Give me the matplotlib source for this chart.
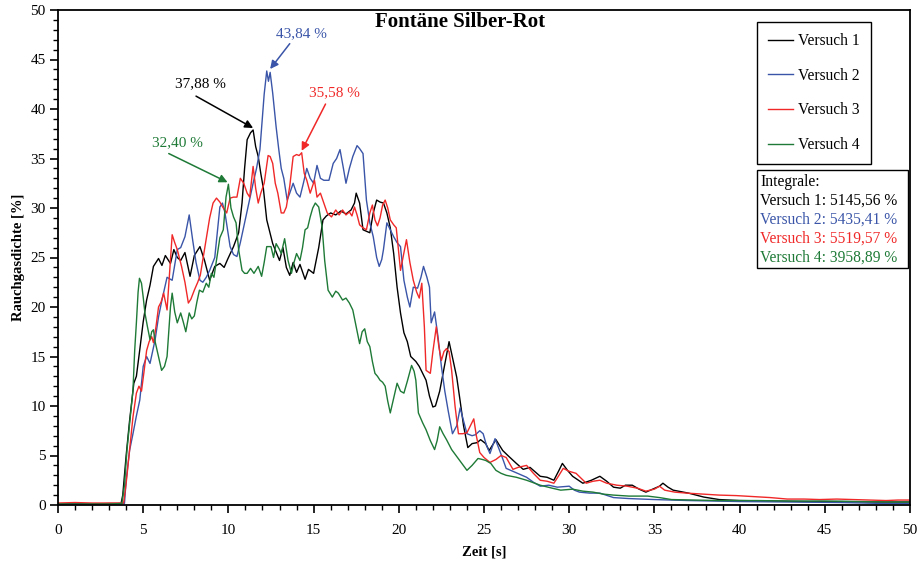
import matplotlib
matplotlib.use("Agg")
import matplotlib.pyplot as plt
from matplotlib.ticker import MultipleLocator
from matplotlib.patches import Rectangle

plt.rcParams['font.family'] = ['Liberation Serif', 'DejaVu Serif']

title = "Fontäne Silber-Rot"
xlabel = "Zeit [s]"
ylabel = "Rauchgasdichte [%]"
labels = ["Versuch 1", "Versuch 2", "Versuch 3", "Versuch 4"]
colors = ["#000000", "#3a55a8", "#f02828", "#1e7a36"]
integrals = ["5145,56 %", "5435,41 %", "5519,57 %", "3958,89 %"]
peaks = ["37,88 %", "43,84 %", "35,58 %", "32,40 %"]
peak_t = [11.45, 12.45, 14.3, 9.95]
peak_y = [37.88, 43.84, 35.58, 32.40]

t_v1 = [0, 1, 2, 3, 3.7, 3.8, 4.0, 4.2, 4.45, 4.6, 4.8, 5.0, 5.2, 5.4, 5.6, 5.9, 6.1, 6.3, 6.6, 6.8, 7.0, 7.2, 7.45, 7.75, 8.0, 8.33, 8.6, 8.9, 9.2, 9.5, 9.75, 9.95, 10.3, 10.6, 10.8, 10.95, 11.1, 11.3, 11.45, 11.6, 11.75, 11.9, 12.05, 12.25, 12.6, 13.0, 13.2, 13.4, 13.6, 13.8, 14.0, 14.2, 14.5, 14.7, 15.0, 15.3, 15.55, 15.75, 16.0, 16.3, 16.6, 16.9, 17.2, 17.4, 17.5, 17.7, 17.9, 18.3, 18.5, 18.7, 18.9, 19.1, 19.3, 19.5, 19.7, 19.9, 20.1, 20.3, 20.5, 20.7, 21.0, 21.2, 21.6, 21.8, 22.0, 22.15, 22.4, 22.6, 22.95, 23.2, 23.4, 23.6, 23.8, 24.05, 24.3, 24.6, 24.8, 25.1, 25.3, 25.7, 26.1, 26.4, 26.9, 27.3, 27.7, 28.3, 28.7, 29.1, 29.4, 29.6, 29.9, 30.2, 30.8, 31.3, 31.8, 32.2, 32.6, 33.0, 33.3, 33.7, 34.1, 34.5, 34.9, 35.3, 35.5, 35.8, 36.1, 37.0, 37.9, 38.8, 40, 42, 44, 46, 48, 50]
y_v1 = [0.1, 0.15, 0.1, 0.15, 0.15, 1.0, 5.0, 8.5, 12.3, 13.0, 15.7, 18.5, 20.7, 22.2, 24.1, 24.9, 24.2, 25.2, 24.4, 25.8, 25.0, 24.7, 25.5, 23.1, 25.2, 26.1, 24.7, 22.7, 24.1, 24.4, 24.0, 24.8, 26.1, 27.5, 30.5, 34.0, 36.9, 37.6, 37.88, 36.2, 35.2, 33.5, 32.0, 28.8, 26.4, 24.7, 26.0, 24.0, 23.2, 24.5, 23.5, 24.3, 22.8, 23.8, 23.4, 26.0, 28.8, 29.2, 29.5, 29.3, 29.7, 29.4, 29.8, 30.5, 31.5, 30.5, 27.8, 27.5, 29.5, 30.8, 30.6, 30.5, 29.5, 28.0, 25.4, 22.0, 19.4, 17.4, 16.5, 15.0, 14.5, 14.0, 12.6, 11.0, 9.9, 10.0, 11.5, 13.3, 16.5, 14.5, 12.9, 10.5, 8.0, 5.8, 6.2, 6.3, 6.6, 6.2, 5.5, 6.6, 5.5, 5.0, 4.2, 3.6, 3.8, 2.9, 2.8, 2.5, 3.5, 4.2, 3.5, 2.9, 2.2, 2.5, 2.9, 2.4, 1.8, 1.7, 2.0, 2.0, 1.6, 1.3, 1.6, 1.9, 2.2, 1.8, 1.5, 1.2, 0.8, 0.55, 0.45, 0.4, 0.35, 0.35, 0.3, 0.3]

t_v2 = [0, 2, 3.9, 4.0, 4.2, 4.4, 4.6, 4.8, 5.0, 5.2, 5.4, 5.7, 5.9, 6.1, 6.4, 6.7, 7.0, 7.2, 7.45, 7.7, 7.9, 8.1, 8.33, 8.5, 8.7, 8.9, 9.2, 9.35, 9.5, 9.65, 9.8, 10.1, 10.3, 10.5, 10.7, 10.9, 11.2, 11.45, 11.65, 11.85, 11.95, 12.1, 12.25, 12.35, 12.45, 12.6, 12.8, 12.95, 13.1, 13.25, 13.45, 13.6, 13.8, 14.0, 14.2, 14.4, 14.6, 14.8, 15.0, 15.2, 15.4, 15.6, 15.9, 16.15, 16.35, 16.55, 16.75, 16.9, 17.1, 17.3, 17.55, 17.7, 17.9, 18.1, 18.3, 18.5, 18.7, 18.85, 19.0, 19.1, 19.3, 19.5, 19.7, 19.9, 20.1, 20.3, 20.5, 20.65, 20.85, 21.1, 21.3, 21.45, 21.65, 21.8, 21.9, 22.1, 22.3, 22.5, 22.7, 22.9, 23.15, 23.4, 23.6, 23.8, 24.0, 24.3, 24.5, 24.75, 24.95, 25.15, 25.35, 25.65, 25.85, 26.05, 26.3, 26.7, 27.1, 27.5, 27.9, 28.3, 28.8, 29.3, 30.0, 30.3, 30.6, 31.2, 31.8, 32.6, 33.5, 35, 37, 40, 43, 46, 48.5, 50]
y_v2 = [0.1, 0.1, 0.15, 2.5, 5.5, 7.2, 9.0, 10.6, 14.0, 15.0, 14.3, 16.7, 19.0, 20.7, 23.0, 22.7, 25.8, 26.0, 27.1, 29.3, 26.8, 24.5, 22.7, 22.5, 23.0, 23.7, 25.0, 27.5, 30.1, 30.5, 29.5, 26.1, 25.3, 25.1, 26.5, 28.1, 30.5, 32.5, 34.0, 35.9, 38.2, 41.5, 43.84, 42.8, 43.7, 41.6, 38.2, 36.0, 34.0, 33.0, 30.8, 31.5, 32.5, 31.5, 31.1, 32.5, 34.0, 33.0, 32.5, 34.3, 33.0, 32.8, 32.8, 34.5, 35.0, 35.9, 34.0, 32.5, 34.0, 35.2, 36.3, 36.0, 35.5, 30.8, 28.5, 27.1, 25.0, 24.1, 24.8, 25.8, 28.5, 27.8, 27.1, 26.5, 26.1, 22.7, 21.0, 20.0, 22.0, 21.9, 23.0, 24.1, 23.0, 22.0, 18.4, 19.5, 17.0, 14.0, 11.5, 9.5, 7.2, 8.0, 9.8, 8.5, 7.2, 7.0, 7.1, 7.5, 7.2, 6.0, 5.2, 6.7, 5.8, 4.9, 3.7, 3.4, 3.1, 2.8, 2.3, 1.9, 2.0, 1.8, 1.9, 1.5, 1.3, 1.2, 1.2, 0.75, 0.65, 0.55, 0.45, 0.35, 0.3, 0.25, 0.15, 0.15]

t_v3 = [0, 1, 2, 3, 3.85, 4.0, 4.2, 4.4, 4.6, 4.75, 4.9, 5.05, 5.2, 5.35, 5.5, 5.6, 5.75, 5.9, 6.05, 6.2, 6.4, 6.55, 6.7, 6.85, 7.0, 7.25, 7.45, 7.65, 7.8, 8.0, 8.2, 8.35, 8.5, 8.7, 8.9, 9.1, 9.3, 9.5, 9.7, 9.9, 10.1, 10.3, 10.5, 10.7, 10.9, 11.1, 11.25, 11.45, 11.6, 11.75, 11.9, 12.1, 12.33, 12.45, 12.6, 12.75, 12.9, 13.1, 13.25, 13.4, 13.6, 13.8, 14.0, 14.15, 14.3, 14.45, 14.6, 14.8, 15.05, 15.2, 15.4, 15.6, 15.8, 16.05, 16.3, 16.5, 16.7, 16.9, 17.1, 17.25, 17.4, 17.55, 17.7, 17.9, 18.1, 18.3, 18.45, 18.6, 18.75, 18.9, 19.05, 19.2, 19.35, 19.5, 19.7, 19.85, 20.1, 20.3, 20.45, 20.65, 20.85, 21.05, 21.2, 21.35, 21.5, 21.6, 21.85, 22.0, 22.2, 22.35, 22.5, 22.65, 22.8, 22.95, 23.1, 23.3, 23.5, 23.75, 24.0, 24.2, 24.4, 24.55, 24.75, 25.0, 25.35, 25.7, 26.0, 26.3, 26.7, 27.0, 27.5, 27.9, 28.3, 28.7, 29.1, 29.4, 29.65, 30.0, 30.4, 30.7, 31.0, 31.4, 31.8, 32.2, 32.8, 33.4, 34.0, 34.5, 35.0, 35.3, 35.6, 36.2, 36.9, 37.8, 38.8, 39.8, 40.8, 41.8, 42.8, 43.8, 44.7, 45.7, 46.7, 47.6, 48.6, 49.3, 50]
y_v3 = [0.2, 0.25, 0.2, 0.2, 0.2, 2.2, 5.5, 8.9, 11.3, 12.0, 11.5, 13.5, 15.6, 16.5, 17.0, 16.4, 18.0, 20.0, 20.5, 21.4, 19.7, 23.5, 27.3, 26.5, 25.8, 24.1, 22.5, 20.4, 20.8, 21.7, 22.5, 23.2, 24.8, 27.0, 29.0, 30.5, 31.0, 30.6, 30.0, 29.5, 31.0, 31.1, 31.1, 33.0, 32.5, 31.5, 31.1, 34.2, 32.0, 30.5, 31.5, 32.5, 35.3, 35.2, 34.5, 32.5, 31.5, 29.5, 29.5, 30.1, 32.2, 35.2, 35.4, 35.3, 35.58, 33.5, 32.8, 31.5, 32.8, 31.1, 31.5, 30.5, 29.5, 29.1, 29.8, 29.3, 29.8, 29.3, 29.6, 29.2, 30.1, 29.3, 28.3, 28.0, 27.8, 29.5, 30.3, 28.8, 28.2, 29.0, 30.3, 30.8, 30.0, 28.8, 28.3, 28.0, 23.7, 25.5, 26.8, 24.5, 22.7, 21.5, 20.9, 22.4, 18.0, 13.6, 13.3, 15.5, 18.0, 16.0, 14.6, 15.5, 15.8, 15.5, 13.6, 10.0, 7.2, 7.2, 7.3, 8.0, 8.7, 7.0, 5.3, 4.8, 4.3, 4.6, 5.0, 4.8, 3.6, 3.8, 4.0, 3.2, 2.5, 2.4, 2.2, 3.0, 3.7, 3.4, 3.2, 2.7, 2.2, 2.4, 2.5, 2.2, 2.0, 1.9, 1.7, 1.4, 1.6, 1.9, 1.5, 1.3, 1.2, 1.1, 1.0, 0.95, 0.85, 0.75, 0.6, 0.6, 0.55, 0.6, 0.55, 0.5, 0.45, 0.5, 0.5]

t_v4 = [0, 1, 2, 3, 3.75, 3.9, 4.05, 4.25, 4.4, 4.5, 4.6, 4.7, 4.78, 4.9, 5.0, 5.1, 5.25, 5.4, 5.5, 5.6, 5.7, 5.9, 6.08, 6.25, 6.4, 6.6, 6.7, 6.85, 7.0, 7.2, 7.35, 7.5, 7.7, 7.85, 8.0, 8.15, 8.3, 8.5, 8.7, 8.85, 9.0, 9.15, 9.3, 9.5, 9.7, 9.86, 10.0, 10.15, 10.3, 10.45, 10.6, 10.8, 10.95, 11.1, 11.3, 11.5, 11.75, 11.95, 12.1, 12.25, 12.5, 12.65, 12.8, 13.0, 13.1, 13.3, 13.5, 13.7, 13.85, 14.0, 14.2, 14.35, 14.5, 14.65, 14.8, 14.95, 15.1, 15.3, 15.5, 15.65, 15.85, 16.1, 16.3, 16.45, 16.7, 16.9, 17.1, 17.3, 17.5, 17.7, 17.85, 18.0, 18.15, 18.3, 18.45, 18.6, 18.75, 18.9, 19.05, 19.2, 19.35, 19.5, 19.7, 19.9, 20.1, 20.3, 20.5, 20.75, 20.9, 21.0, 21.15, 21.4, 21.6, 21.85, 22.1, 22.25, 22.4, 22.6, 22.8, 23.1, 23.4, 23.7, 24.0, 24.3, 24.65, 24.9, 25.1, 25.4, 25.7, 26.0, 26.3, 26.9, 27.5, 28.3, 29.0, 29.5, 30.2, 30.8, 31.4, 32.0, 32.6, 33.5, 34.6, 35.3, 36.0, 37.5, 38.8, 41, 43, 45, 47, 49, 50]
y_v4 = [0.1, 0.1, 0.1, 0.1, 0.15, 2.0, 5.6, 9.0, 11.6, 15.6, 18.4, 21.5, 22.9, 22.4, 21.0, 19.4, 18.0, 16.7, 17.5, 17.7, 16.5, 15.0, 13.6, 14.0, 15.0, 20.0, 21.4, 19.5, 18.4, 19.4, 18.5, 17.5, 19.4, 18.8, 19.1, 20.5, 21.7, 21.5, 22.4, 22.0, 23.4, 23.0, 24.7, 27.0, 27.8, 31.1, 32.4, 30.0, 29.1, 28.5, 25.8, 23.7, 23.4, 23.4, 23.9, 23.4, 24.1, 23.1, 24.5, 26.1, 26.1, 25.0, 26.4, 25.8, 25.4, 26.9, 24.7, 23.4, 24.5, 25.4, 24.7, 26.0, 27.8, 28.0, 29.1, 30.0, 30.5, 30.1, 28.1, 24.7, 21.7, 21.0, 21.6, 21.4, 20.7, 20.9, 20.4, 19.7, 18.0, 16.3, 17.5, 17.8, 16.5, 16.0, 14.5, 13.3, 13.0, 12.6, 12.4, 12.0, 10.5, 9.3, 10.8, 12.3, 11.5, 11.3, 12.5, 14.1, 13.5, 12.6, 9.3, 8.3, 7.6, 6.5, 5.6, 6.5, 7.9, 7.2, 6.6, 5.6, 4.9, 4.2, 3.5, 4.0, 4.7, 4.6, 4.5, 4.2, 3.5, 3.2, 3.0, 2.8, 2.5, 2.0, 1.7, 1.5, 1.6, 1.4, 1.3, 1.1, 1.0, 0.9, 0.9, 0.75, 0.55, 0.5, 0.45, 0.45, 0.4, 0.4, 0.35, 0.3, 0.3]

series_t = [t_v1, t_v2, t_v3, t_v4]
series_y = [y_v1, y_v2, y_v3, y_v4]

fig = plt.figure(figsize=(9.22, 5.65), dpi=100)
ax = fig.add_axes([58 / 922, 60 / 565, 852 / 922, 495 / 565])

for tt, yy, c, lab in zip(series_t, series_y, colors, labels):
    ax.plot(tt, yy, color=c, lw=1.0, label=lab)

ax.set_xlim(0, 50)
ax.set_ylim(0, 50)
ax.xaxis.set_major_locator(MultipleLocator(5))
ax.xaxis.set_minor_locator(MultipleLocator(1))
ax.yaxis.set_major_locator(MultipleLocator(5))
ax.yaxis.set_minor_locator(MultipleLocator(1))
ax.tick_params(which='major', direction='out', length=6, width=1.2, labelsize=11, pad=8)
ax.tick_params(which='minor', direction='out', length=3.5, width=1.0)
ax.tick_params(axis='y', which='major', pad=3)
for s in ax.spines.values():
    s.set_linewidth(1.3)

ax.set_xlabel(xlabel, fontsize=10.5, fontweight='bold', labelpad=6)
ax.set_ylabel(ylabel, fontsize=10.5, fontweight='bold', labelpad=4)

ax.text(23.6, 48.8, title, fontsize=15, fontweight='bold', ha='center', va='center')

text_pos = [(8.33, 42.6), (14.3, 47.6), (16.25, 41.6), (7.0, 36.6)]
for (tx, ty), c, lab in zip(text_pos, colors, peaks):
    ax.text(tx, ty, lab, color=c, fontsize=11, ha='center', va='center')
for (sx, sy), pt, py, c in zip([(8.1, 41.3), (13.6, 46.6), (15.7, 40.5), (6.5, 35.5)], peak_t, peak_y, colors):
    ax.annotate("", xy=(pt, py + 0.2), xytext=(sx, sy),
                arrowprops=dict(arrowstyle='-|>', color=c, lw=1.1, mutation_scale=12, shrinkA=0, shrinkB=0))

leg = ax.legend(loc='upper left', bbox_to_anchor=(0.820, 0.976), frameon=True, fancybox=False,
                edgecolor='black', framealpha=1, fontsize=11.2, handlelength=1.6, handletextpad=0.35,
                labelspacing=1.2, borderpad=0.72, borderaxespad=0)
leg.get_frame().set_linewidth(1.0)

x0 = (757 - 58) / 852
x1 = (908 - 58) / 852
y0 = (505 - 268) / 495
y1 = (505 - 170) / 495
ax.add_patch(Rectangle((x0, y0), x1 - x0, y1 - y0, transform=ax.transAxes,
                       facecolor='white', edgecolor='black', lw=1.0, zorder=5))
lines = ["Integrale:"] + [f"{lab}: {v}" for lab, v in zip(labels, integrals)]
line_cols = ["#000000"] + colors
for i, (txt, c) in enumerate(zip(lines, line_cols)):
    ypx = 182 + i * 19
    ax.text((760 - 58) / 852, (505 - ypx) / 495, txt, color=c, fontsize=11.2,
            ha='left', va='center', transform=ax.transAxes, zorder=6)

fig.savefig("out.png", dpi=100)
